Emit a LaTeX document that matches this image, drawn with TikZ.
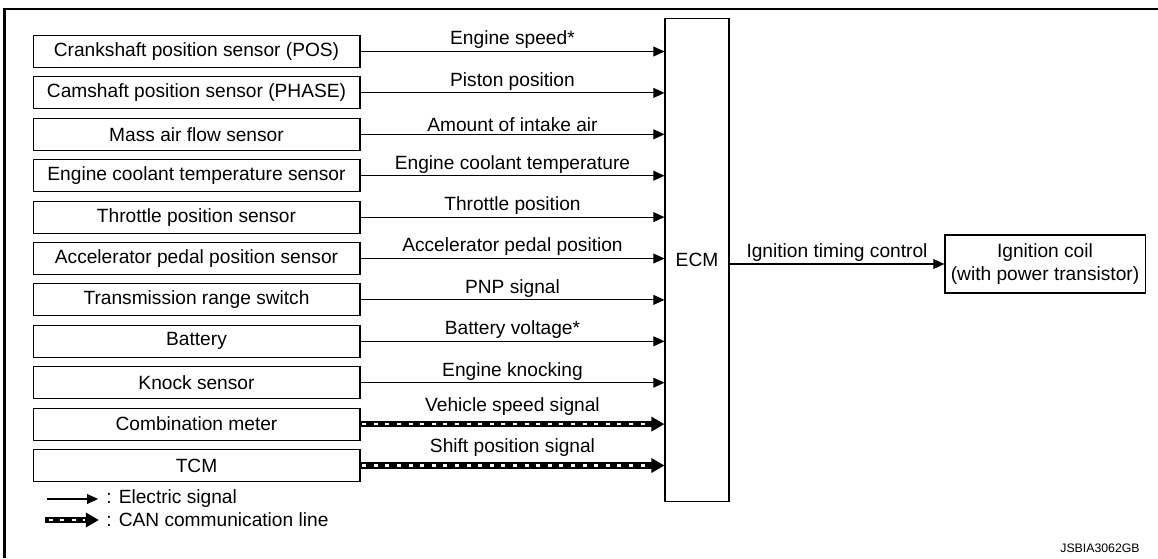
\documentclass[tikz,border=0pt]{standalone}
\usepackage{fontspec}
\setmainfont{Liberation Sans}
\usetikzlibrary{arrows.meta}

\tikzset{
   sensor/.style={draw, line width=0.6pt, minimum width=6.54cm, minimum height=0.64cm, inner sep=0pt},
   elec/.style={line width=0.6pt, -{Triangle[length=6.3pt,width=5.6pt]}},
   canline/.style={line width=3.8pt, -{Triangle[length=7.5pt,width=8pt]}},
   candash/.style={white, line width=1.5pt, dash pattern=on 2.3pt off 4.3pt, dash phase=-1pt},
   siglabel/.style={midway, above, inner sep=1.2pt}
}

\begin{document}
\begin{tikzpicture}[x=0.02cm, y=-0.02cm, font=\fontsize{10.9}{13}\selectfont]
   \useasboundingbox (0,0) rectangle (1158,558);
   \draw[line width=1.7pt] (4.5,558) -- (4.5,9) -- (1158,9);

   \node[draw, line width=0.6pt, minimum width=1.28cm, minimum height=9.68cm] (ecm) at (697,260) {ECM};
   \node[draw, line width=0.6pt, minimum width=3.72cm, minimum height=1.16cm, align=center] (coil) at (1045,264) {Ignition coil\\(with power transistor)};

   \foreach \i/\name in {1/Crankshaft position sensor (POS), 2/Camshaft position sensor (PHASE),
         3/Mass air flow sensor, 4/Engine coolant temperature sensor, 5/Throttle position sensor,
         6/Accelerator pedal position sensor, 7/Transmission range switch, 8/Battery,
         9/Knock sensor, 10/Combination meter, 11/TCM}
      \node[sensor] (s\i) at (196.5, {51.5+41.4*(\i-1)}) {\name};

   \foreach \i/\sig in {1/Engine speed*, 2/Piston position, 3/Amount of intake air,
         4/Engine coolant temperature, 5/Throttle position, 6/Accelerator pedal position,
         7/PNP signal, 8/Battery voltage*, 9/Engine knocking}
      \draw[elec] (s\i.east) -- (s\i.east -| ecm.west) node[siglabel] {\sig};

   % CAN lines
   \foreach \i/\sig in {10/Vehicle speed signal, 11/Shift position signal} {
      \draw[canline] (s\i.east) -- (s\i.east -| ecm.west) node[siglabel, inner sep=3pt] {\sig};
      \draw[candash, shorten >=8pt] (s\i.east) -- (s\i.east -| ecm.west);
   }

   \draw[elec] (ecm.east |- coil.west) -- (coil.west) node[siglabel] {Ignition timing control};

   % legend
   \node[anchor=west, inner sep=0pt] (lgE) at (106,499) {: Electric signal};
   \node[anchor=west, inner sep=0pt] (lgC) at (106,520) {: CAN communication line};
   \coordinate (lgEa) at (47,499);
   \coordinate (lgCa) at (45,520);
   \draw[elec, shorten >=4.5pt] (lgEa) -- (lgE.west);
   \draw[canline, shorten >=4pt] (lgCa) -- (lgC.west);
   \draw[candash, dash phase=-2pt, shorten >=12pt] (lgCa) -- (lgC.west);

   \node[anchor=base east, inner sep=0pt, font=\fontsize{7}{8}\selectfont] (fig) at (1140,552) {JSBIA3062GB};
\end{tikzpicture}
\end{document}
